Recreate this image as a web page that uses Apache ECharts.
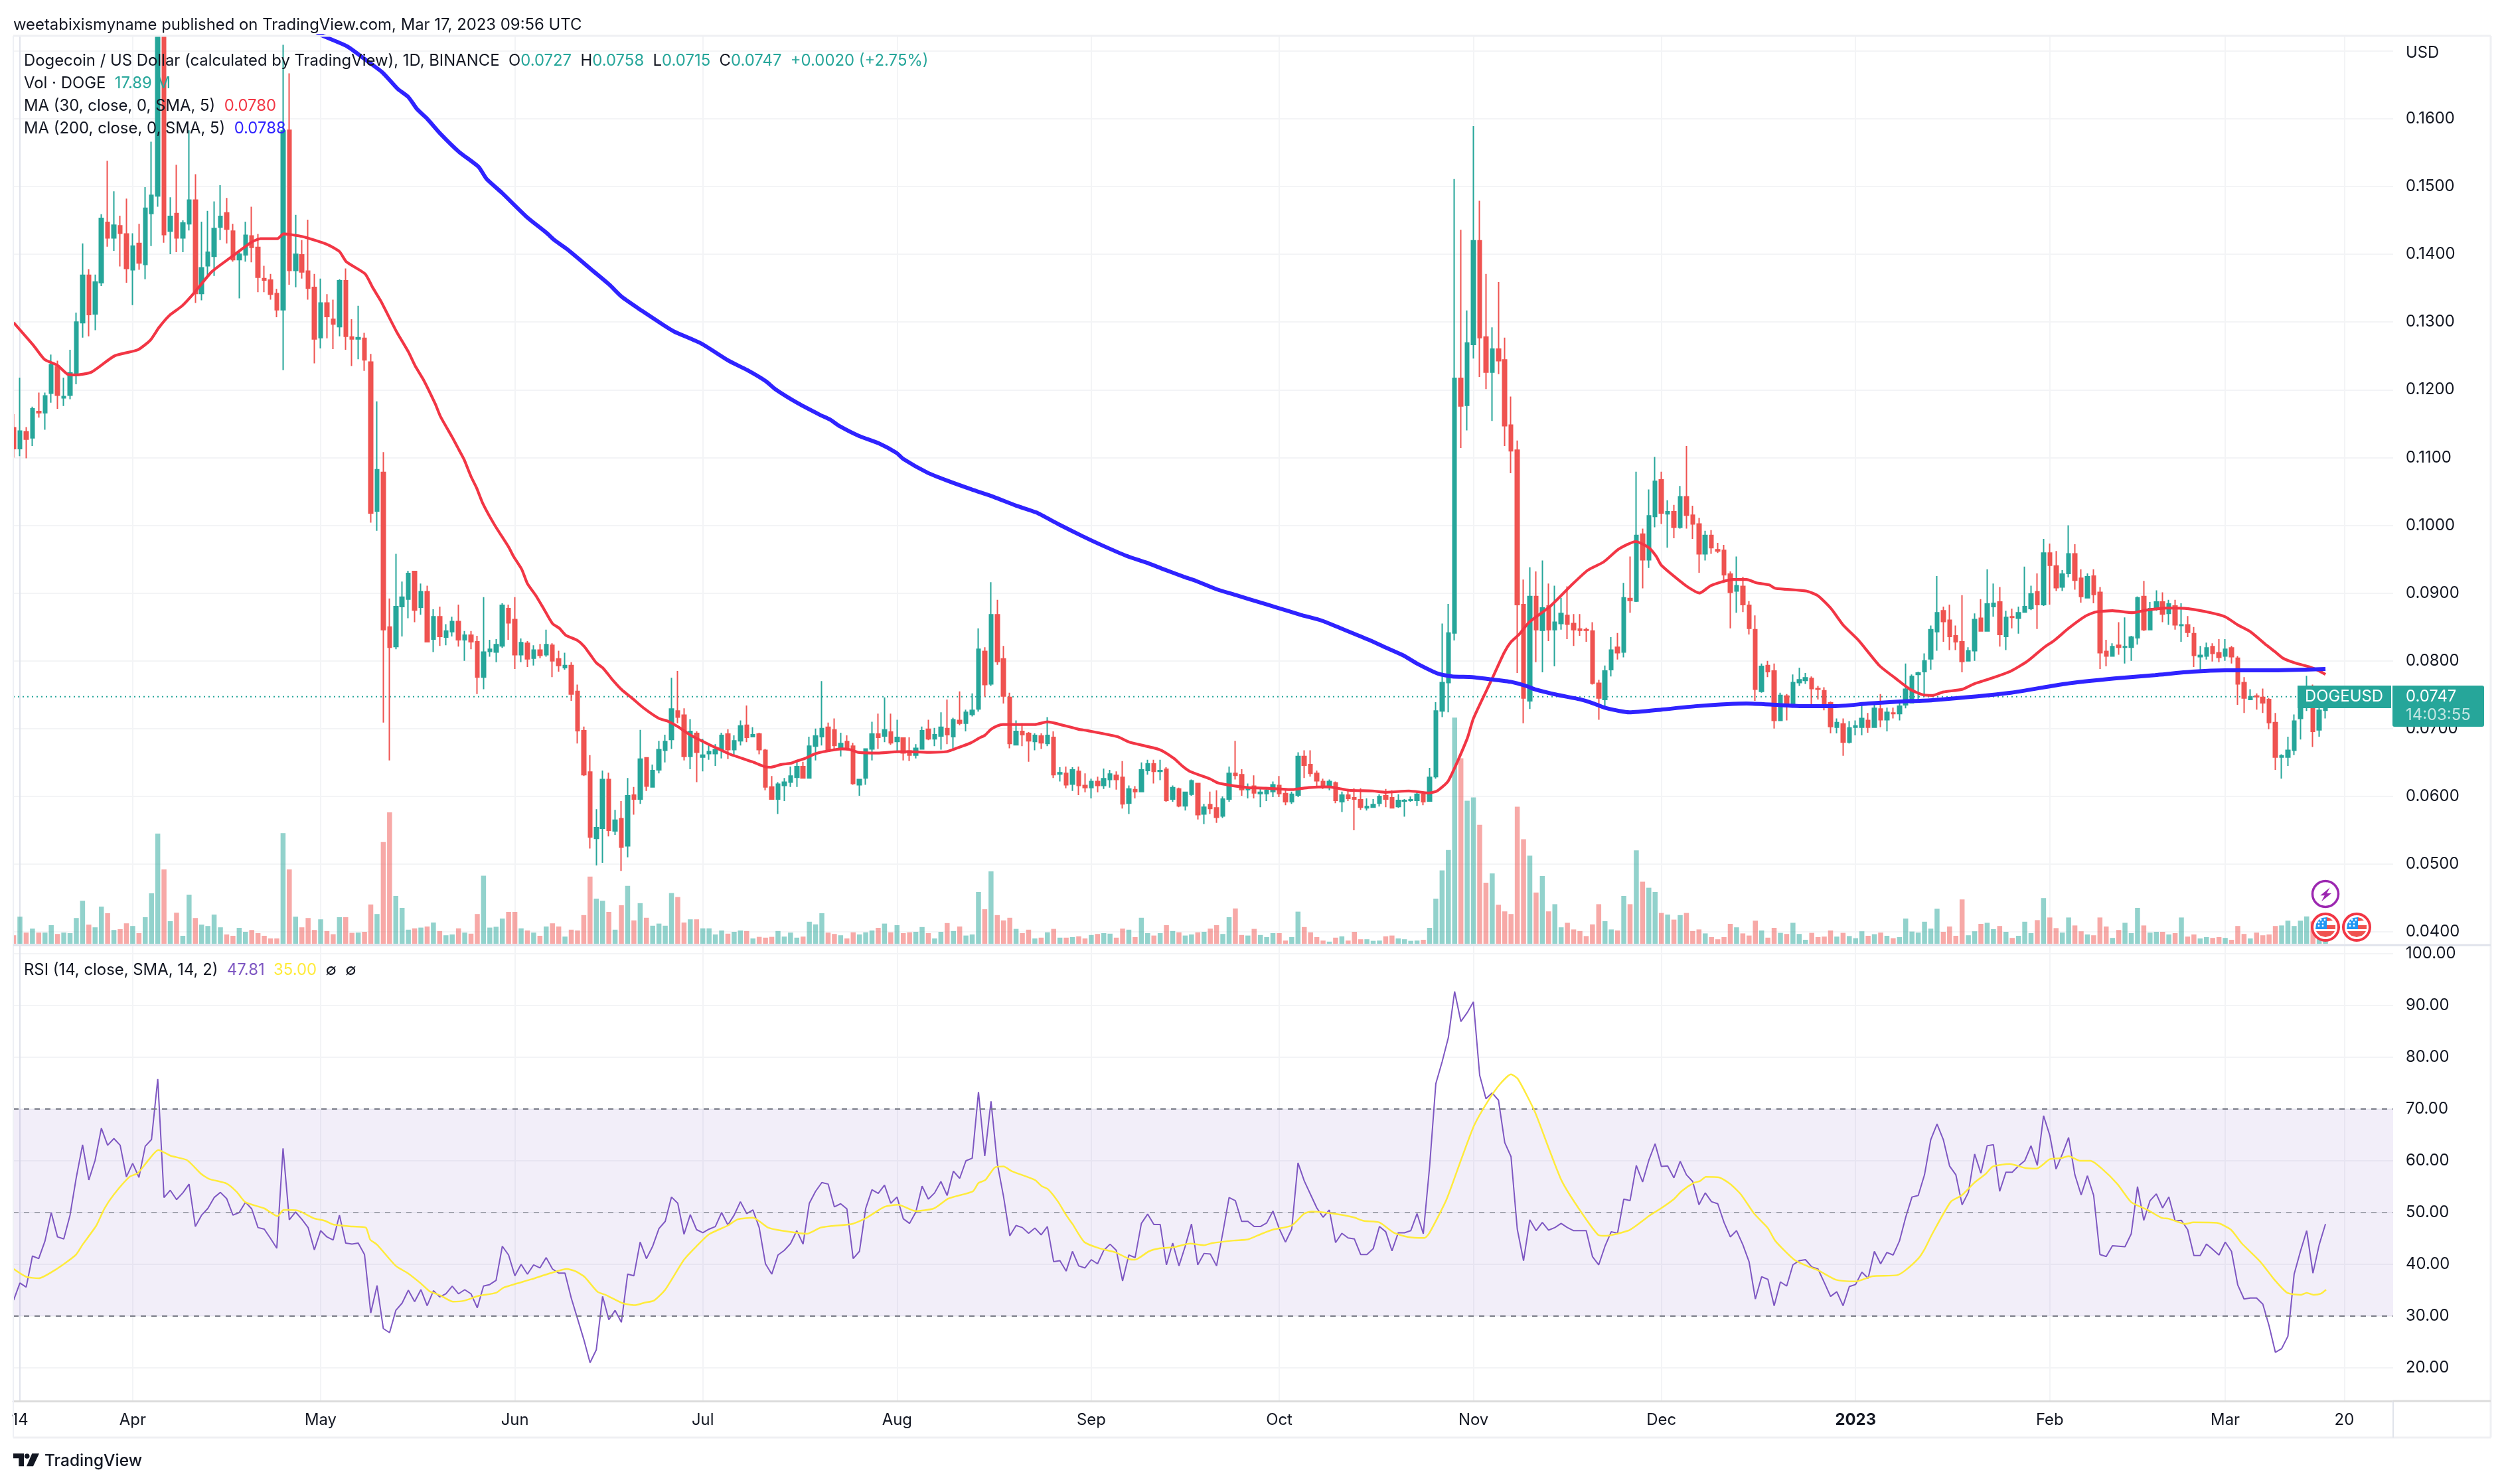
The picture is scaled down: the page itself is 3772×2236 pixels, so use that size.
<!DOCTYPE html>
<html><head><meta charset="utf-8"><style>html,body{margin:0;padding:0;background:#fff}#c{width:3772px;height:2236px}</style>
<script src="https://cdn.jsdelivr.net/npm/echarts@6/dist/echarts.min.js"></script></head><body><div id="c"></div>
<script>
// prices are in units of 0.0001 USD; first entry is day -1 (13 Mar 2022), day 0 is 14 Mar 2022
// the candles of days 22-23 run off the top of the pane: 1722 is the highest value the picture shows
const priceOpen=[1144,1113,1138,1129,1168,1166,1195,1234,1188,1192,
1223,1299,1369,1312,1358,1447,1424,1442,1430,1377,
1416,1385,1460,1486,1722,1434,1460,1424,1445,1480,
1342,1383,1397,1440,1461,1434,1392,1399,1427,1410,
1364,1362,1342,1318,1583,1376,1399,1375,1351,1277,
1328,1304,1293,1361,1278,1275,1276,1241,1021,1078,
850,821,880,891,932,879,902,832,865,835,
843,858,831,838,828,776,814,813,822,877,
861,809,826,804,816,809,823,803,790,793,
755,697,636,538,553,625,549,567,527,602,
596,657,614,639,668,684,726,720,659,693,
658,663,663,669,692,669,682,705,688,692,
668,614,596,616,621,628,644,627,674,688,
702,698,671,681,674,617,627,670,692,689,
695,681,686,667,661,670,699,685,689,700,
688,712,708,721,729,814,766,868,803,746,
676,696,693,681,689,678,687,633,634,618,
637,616,613,622,616,625,631,628,590,610,
607,638,648,637,640,596,611,586,603,619,
574,588,583,571,596,634,632,610,615,604,
604,607,616,604,592,602,659,647,634,622,
613,620,592,602,598,595,583,584,590,601,
598,585,593,594,594,603,593,629,726,768,
841,1217,1177,1267,1420,1278,1226,1260,1244,1148,
1111,883,741,895,845,881,846,855,867,855,
847,846,844,767,743,787,820,813,892,888,
987,949,1013,1067,1017,1020,997,1042,1015,1002,
958,985,964,963,928,903,910,882,846,755,
793,785,712,748,735,768,771,774,759,756,
738,702,707,680,702,702,712,702,729,713,
723,722,735,738,780,784,803,843,874,860,
837,828,800,815,863,844,880,887,836,865,
863,872,877,902,883,959,940,909,929,958,
922,893,925,901,814,807,823,820,820,834,
895,846,877,887,870,881,852,853,840,806,
807,821,812,807,819,804,768,743,748,746,
743,709,658,658,668,715,734,752,698,727];
const priceClose=[1113,1139,1127,1172,1166,1191,1237,1192,1190,1225,
1300,1369,1311,1359,1453,1424,1443,1431,1379,1412,
1387,1468,1487,1722,1429,1456,1424,1446,1480,1342,
1380,1403,1438,1456,1437,1392,1400,1428,1410,1366,
1362,1341,1318,1582,1376,1400,1374,1350,1275,1328,
1308,1297,1361,1279,1275,1277,1244,1018,1082,846,
820,880,894,929,875,902,828,865,836,844,
858,831,838,828,776,813,817,824,882,856,
809,827,803,816,808,824,800,793,793,751,
697,632,540,554,625,550,565,525,601,596,
655,615,638,669,681,729,717,659,696,665,
661,666,669,690,669,682,704,687,691,669,
614,596,618,621,630,644,627,674,689,700,
669,675,678,671,619,625,670,692,687,698,
679,687,664,661,671,697,685,691,702,691,
713,708,724,727,817,765,868,799,748,678,
696,691,682,690,679,690,632,635,617,639,
616,613,622,616,626,633,625,589,611,607,
639,648,637,638,594,613,586,606,623,573,
584,582,569,596,634,631,610,612,605,606,
609,617,604,592,603,659,646,634,623,616,
622,594,602,597,596,584,585,588,600,596,
583,594,594,595,603,592,628,726,768,841,
1217,1176,1269,1420,1277,1226,1260,1243,1147,1110,
883,745,895,846,878,846,857,870,854,846,
845,845,767,745,785,816,812,893,889,985,
949,1014,1065,1018,1020,997,1042,1015,1002,958,
985,967,962,927,901,911,883,848,758,792,
784,712,749,737,768,772,775,759,758,734,
703,709,680,701,704,715,702,730,713,724,
722,733,758,777,782,800,846,871,858,836,
828,799,815,861,844,884,885,839,864,864,
871,880,899,883,959,941,908,928,958,919,
895,924,898,812,807,821,820,821,835,893,
846,877,887,869,884,853,853,842,808,808,
819,811,805,817,806,766,745,747,747,738,
709,658,660,668,711,734,752,696,727,747];
const priceHigh=[1164,1218,1145,1175,1196,1196,1252,1243,1218,1259,
1314,1416,1378,1370,1459,1538,1493,1457,1482,1431,
1445,1499,1566,1722,1722,1484,1532,1450,1583,1518,
1448,1464,1478,1502,1483,1445,1407,1448,1470,1430,
1383,1371,1349,1709,1667,1458,1421,1451,1371,1364,
1341,1333,1363,1379,1304,1324,1284,1253,1183,1108,
892,958,917,933,932,914,911,876,880,854,
865,883,844,844,837,894,831,832,885,883,
894,833,829,823,825,846,826,815,812,798,
765,703,661,581,638,635,580,593,627,614,
698,657,647,682,691,775,785,730,714,696,
685,678,677,694,699,690,712,734,702,694,
670,630,621,627,644,653,651,688,700,770,
709,715,694,690,679,625,671,710,722,746,
722,713,686,687,677,703,713,701,724,743,
716,755,728,752,848,820,916,890,822,753,
712,708,695,693,693,717,696,643,644,643,
644,634,626,629,641,639,637,652,616,615,
650,654,654,654,643,616,613,606,625,620,
589,607,609,600,644,682,640,619,631,612,
613,622,630,609,607,665,668,668,638,626,
625,622,607,611,612,612,597,596,603,611,
609,603,596,600,607,607,642,739,855,884,
1511,1436,1317,1589,1479,1371,1292,1359,1277,1190,
1125,920,938,932,948,914,911,893,910,869,
869,849,857,772,793,835,841,915,954,1079,
995,1053,1101,1079,1037,1030,1058,1117,1029,1011,
992,993,974,971,932,954,924,888,867,796,
800,796,753,751,780,790,782,777,763,761,
740,715,715,711,712,737,723,738,751,731,
731,743,796,780,784,811,852,925,880,883,
852,897,820,870,891,935,914,909,874,877,
880,939,911,929,980,973,962,934,1000,972,
935,929,935,909,831,826,857,864,837,895,
918,887,904,901,890,890,885,866,850,822,
827,826,832,832,822,807,776,758,752,759,
745,723,662,688,721,743,778,765,735,758];
const priceLow=[1100,1102,1099,1117,1159,1141,1181,1172,1176,1186,
1208,1277,1279,1288,1353,1411,1405,1382,1358,1325,
1377,1363,1412,1470,1417,1400,1403,1403,1435,1328,
1332,1369,1368,1421,1416,1389,1335,1389,1388,1344,
1344,1333,1307,1229,1355,1351,1364,1333,1239,1261,
1276,1260,1279,1259,1235,1245,1228,1004,992,709,
653,817,836,863,857,868,828,813,822,823,
836,821,800,817,751,758,806,798,819,831,
788,798,791,793,804,806,776,784,787,741,
678,630,523,498,502,541,543,490,510,573,
589,608,614,634,650,670,708,653,640,621,
637,654,645,656,655,659,675,680,688,662,
609,596,574,593,614,614,627,627,653,675,
669,669,659,668,617,601,617,653,670,680,
676,665,653,652,656,669,683,674,669,677,
667,705,696,718,725,747,763,794,737,671,
675,674,651,668,670,674,627,622,612,608,
602,606,597,606,611,613,610,582,574,597,
607,632,619,624,592,592,584,579,601,566,
559,574,561,568,592,625,601,597,597,584,
593,599,599,587,589,599,627,629,614,611,
609,590,577,593,550,580,579,583,585,584,
582,583,570,592,586,587,592,626,717,724,
830,1114,1140,1246,1219,1201,1154,1223,1117,1077,
782,708,729,798,783,829,792,846,832,822,
837,828,765,713,729,777,802,805,871,887,
907,937,997,1002,967,981,995,995,980,930,
948,958,959,915,848,871,872,839,741,753,
776,700,711,712,731,763,766,731,743,727,
693,693,660,678,690,690,694,701,702,696,
715,712,730,737,741,747,787,815,828,816,
816,783,799,800,844,843,865,821,816,848,
840,872,875,847,881,883,903,903,923,905,
886,892,885,788,792,807,809,796,800,824,
844,845,874,857,853,846,828,835,791,782,
802,799,798,800,796,735,723,742,728,723,
699,639,626,645,661,684,726,673,688,715];
const volumeM=[32,102,42,57,42,42,70,37,42,40,
97,162,72,62,140,115,52,55,77,67,
40,100,190,415,280,85,117,30,185,97,
72,67,110,62,35,30,60,45,52,40,
30,20,20,417,280,102,62,97,52,92,
48,36,100,100,41,42,45,148,112,383,
495,180,135,53,58,61,65,80,48,32,
35,58,42,38,112,256,61,64,95,120,
120,58,50,42,30,65,77,65,27,53,
50,108,253,170,162,120,53,145,218,88,
153,98,68,76,68,191,176,80,92,92,
58,58,35,50,38,45,50,48,20,26,
23,26,48,27,42,23,27,83,73,115,
42,37,32,20,43,35,43,50,60,76,
43,70,40,43,45,63,40,20,45,78,
48,65,31,35,195,130,273,108,88,98,
56,40,53,20,23,43,56,23,23,25,
28,20,33,37,40,38,23,57,53,25,
98,40,31,40,70,48,43,31,35,43,
45,57,70,37,100,133,33,31,56,33,
25,40,40,12,25,121,63,43,25,12,
8,23,28,12,45,17,17,11,12,28,
31,20,17,11,12,15,60,170,276,353,
852,699,539,551,448,230,265,147,122,112,
516,394,332,193,255,122,149,62,79,54,
48,29,73,149,85,54,50,180,149,352,
234,211,195,116,110,91,108,116,48,54,
39,25,17,25,75,62,39,31,87,50,
23,60,41,37,79,37,15,41,25,27,
50,27,41,29,21,47,30,36,42,30,
21,25,95,46,42,83,57,132,45,65,
30,167,32,47,75,79,55,67,45,22,
30,83,40,89,172,99,59,42,99,69,
47,35,32,99,65,22,52,79,40,135,
69,42,45,45,35,40,99,27,35,20,
25,22,25,22,15,67,37,20,42,32,
35,67,69,87,67,87,103,84,50,18];
const rsi=[33.1,36.4,35.6,41.6,41.1,44.5,50,45.3,44.9,49.5,
56.8,63.1,56.3,60.1,66.3,63,64.3,63,56.9,59.5,
56.8,62.8,64.1,75.8,52.9,54.3,52.5,53.8,55.5,47.3,
49.5,50.8,52.9,53.9,52.7,49.5,50,52,50.7,47.1,
46.8,45,43.1,62.4,48.6,50.1,48.7,47.1,42.8,46.5,
45.3,44.7,49.5,44.1,43.9,44.1,41.9,30.6,35.9,27.6,
26.8,31.1,32.5,35,32.8,35.1,32,34.9,33.7,34.3,
35.8,34.3,35.1,34.3,31.6,35.8,36.1,36.9,43.5,41.8,
37.8,40,38.1,39.9,39.3,41.3,39.1,38.3,38.3,33.5,
29.5,25.5,21,23.5,33.8,29.3,31.1,28.8,38.1,37.8,
44.3,41.1,43.5,46.9,48.3,53,51.8,45.8,49.6,46.7,
46.1,46.8,47.3,50,47.6,49.5,52.1,49.8,50.5,47.1,
40.1,38.1,41.8,42.7,44,46.5,43.9,51.8,54.1,55.8,
55.5,51.1,51.7,50.7,41.1,42.5,50.8,54.4,53.7,55.3,
51.8,53,48.8,47.9,50.1,55.1,52.6,53.8,56,53.3,
58,56.6,60,60.5,73.3,60.9,71.5,59.5,53.1,45.5,
47.5,47.1,46,47,45.7,47.3,40.5,40.7,38.7,42.5,
39.7,39.3,40.9,40.1,42.7,43.9,42.7,36.8,41.8,41.3,
47.9,49.7,47.7,47.7,39.9,44.1,39.7,43.5,47.8,39.9,
42.1,42,39.7,46.1,52.9,52.3,48.3,48.3,47.3,47.3,
48,50.3,46.9,44.3,46.8,59.6,56.1,53.5,50.9,49.1,
50.5,44.2,46,45.1,44.9,41.9,41.9,43,47.3,46.3,
42.6,46.1,46.1,46.5,49.8,45.9,58.8,74.9,79.1,83.8,
92.7,86.9,88.6,90.7,76.5,72,73.1,71.7,63.5,60.8,
46.8,40.7,48.6,46.5,48.1,46.6,47.1,47.9,47.1,46.5,
46.5,46.5,41.5,39.9,43.5,46.3,46,52.6,52.3,59.1,
55.9,60.1,63.3,58.9,59,56.7,59.9,57.3,56,51.5,
53.8,52.1,51.7,48.1,45.3,46.5,43.8,40.5,33.3,37.6,
37.1,32,36.6,35.8,39.9,40.7,40.9,39.5,39.1,36.5,
33.8,34.7,32,35.7,36.1,38.5,37.3,42.5,40.1,42.3,
41.8,44.5,49.1,53,53.3,57.3,64.1,67.1,64.1,59,
57.3,51.5,53.9,61.3,57.6,62.9,63.1,54.1,57.8,57.8,
59,60,62.9,59.1,68.7,64.9,58.4,61.3,64.5,57.3,
53.4,57.1,53.3,41.9,41.5,43.6,43.5,43.4,45.9,55,
48.5,52.3,53.6,50.9,53,48.4,48.5,46.7,41.7,41.7,
43.9,42.9,41.8,44.3,42.5,36,33.3,33.5,33.5,32.3,
28.1,23,23.7,26.1,38.1,42.5,46.5,38.3,43.8,47.8];
// [day, value] readings along the smooth curves
const ma30=[[-1,.1299],[2.2,.1265],[3.9,.1245],[6,.1236],[7.6,.1223],[8.9,.1222],[11.4,.1226],[15.1,.125],[18.8,.1259],[20.8,.1273],[22.2,.1292],[23.9,.131],[25.9,.1324],[27.9,.1344],[30.6,.1374],[33.6,.1395],[37,.1418],[38.4,.1423],[41.1,.1423],[42.1,.143],[45.1,.1426],[48.9,.1415],[51,.1404],[52.1,.1389],[55.1,.1371],[56.3,.1351],[57.6,.1331],[60.1,.1286],[62,.1256],[63.1,.1235],[64.4,.1215],[66.3,.1179],[67.1,.1161],[69,.113],[70.1,.1111],[70.9,.1097],[72,.1072],[72.9,.1055],[73.9,.1032],[75.8,.1],[78,.0968],[78.8,.0954],[80.1,.0935],[81,.0914],[82.3,.0897],[83.6,.0877],[85,.0855],[86.1,.0848],[87.1,.0838],[89,.083],[90.1,.0821],[91.2,.0807],[92,.0797],[93.1,.0789],[94.5,.0773],[96.1,.0757],[97.7,.0745],[99.6,.073],[102,.0715],[103.4,.0711],[105,.0703],[107.1,.069],[109.9,.0677],[112,.0668],[113.4,.0662],[116.9,.0651],[118.8,.0644],[119.8,.0643],[121.5,.0647],[123.1,.0649],[124,.0652],[125.3,.0656],[127,.0663],[128.3,.0666],[131.2,.067],[132.5,.0669],[133.8,.0665],[136.9,.0664],[140.2,.0666],[142.1,.0666],[145.3,.0665],[147.9,.0666],[149.2,.067],[151.8,.0679],[153.1,.0686],[154,.069],[155,.0699],[156,.0704],[156.9,.0706],[162,.0706],[164,.071],[165.2,.0708],[169,.0699],[170.4,.0697],[175.2,.0688],[177.1,.068],[181.9,.0669],[184.2,.0656],[185.5,.0645],[186.7,.0637],[189.9,.0626],[191.2,.062],[192.8,.0617],[196,.0613],[198.9,.0612],[203.1,.061],[205.7,.0613],[208.9,.0614],[212.1,.0609],[215.9,.0608],[217.9,.0606],[221.7,.0608],[224.9,.0605],[226.2,.0608],[228,.0623],[231,.0685],[232,.0715],[235,.0774],[236.9,.0812],[238,.0828],[239.3,.0839],[240.9,.0857],[244.2,.088],[247.9,.0914],[250.3,.0934],[252.8,.0946],[255.2,.0965],[257.9,.0976],[260,.0967],[261.2,.0954],[262,.0941],[265.9,.0911],[268.1,.09],[269.9,.0911],[273.4,.092],[275.6,.092],[277.2,.0915],[279.2,.0912],[280.2,.0907],[285.1,.0903],[287,.0896],[289.1,.0877],[291,.0853],[293.5,.083],[296.8,.0793],[299.4,.0774],[301.7,.0758],[303.7,.075],[305.3,.0749],[307,.0754],[310,.0758],[311.9,.0766],[314.9,.0775],[317.8,.0785],[320.5,.08],[323.1,.082],[324.7,.083],[327,.0848],[329.7,.0866],[331.3,.0872],[334,.0874],[337.2,.0871],[339.5,.0875],[342.8,.0878],[346.1,.0877],[349.7,.0871],[352,.0865],[354,.0853],[356,.0843],[358.6,.0823],[360,.0813],[361.2,.0804],[363.1,.0797],[365.5,.0791],[366.8,.0786],[368,.078]];
const ma200=[[47,.173],[48.2,.1723],[52.2,.1707],[55.6,.1684],[57.9,.1668],[60.3,.1644],[62,.1632],[63.4,.1614],[65,.16],[67.1,.1578],[70.1,.1551],[73.2,.1529],[74.5,.1511],[76.9,.1491],[80.9,.1455],[84,.1432],[85.3,.1421],[87.4,.1407],[91.4,.1376],[94.1,.1355],[96.1,.1337],[99.2,.1317],[102.8,.1295],[104.4,.1286],[108.8,.1268],[113.1,.1243],[116.1,.1229],[119,.1213],[120.7,.12],[124.2,.118],[127.7,.1163],[129.3,.1156],[130.9,.1146],[133.9,.1132],[137.1,.1121],[139.9,.1107],[141,.1098],[144.8,.1078],[148,.1066],[151.9,.1053],[155.4,.1042],[159,.1029],[162.2,.1019],[165.7,.1002],[169.6,.0984],[172.6,.0971],[176.6,.0955],[179.8,.0945],[182.6,.0935],[185.8,.0924],[187.7,.0918],[190.9,.0906],[194.1,.0897],[198,.0886],[200.5,.0879],[204.4,.0868],[207.9,.0859],[211.1,.0847],[215.3,.0831],[217.9,.082],[220.8,.0808],[223,.0796],[226.4,.0781],[228.6,.0777],[231.8,.0776],[234.5,.0773],[238,.0769],[240.4,.0763],[241.8,.0758],[245.3,.075],[249.1,.0743],[251.2,.0737],[252.9,.0731],[255.3,.0726],[256.9,.0724],[262,.0728],[267.4,.0733],[275.6,.0737],[280.4,.0735],[284.8,.0733],[289.6,.0733],[295,.0737],[300.1,.074],[305.3,.0742],[317.8,.0753],[326.4,.0766],[334.3,.0774],[340.8,.0779],[346.7,.0784],[352,.0786],[359.2,.0786],[368,.0788]];
const rsiMa=[[-1,39.1],[1,37.6],[3,37.3],[5.6,38.9],[8.9,41.8],[10,43.8],[12.2,47.5],[13.5,50.8],[15,53.5],[17.5,56.9],[18.8,57.6],[20.1,59.5],[22.1,62.1],[24,61],[26.7,60.1],[28.9,57.5],[30.2,56.5],[33,55.6],[34.6,54],[36,52],[39,50.8],[41.1,49.3],[42.1,50.5],[44.3,50.4],[46.9,48.9],[48.7,48.4],[50,47.7],[53.1,47.3],[55.2,47.1],[55.9,44.8],[57,43.8],[60,39.7],[61.9,38.3],[64,36.3],[65.4,34.8],[67.1,34],[69.1,32.8],[71,33],[73.2,33.9],[76,34.5],[77.2,35.5],[81.6,37.1],[84.7,38.3],[87.3,39.1],[88.6,38.7],[90.1,37.6],[92.2,34.7],[93.5,34.1],[96.2,32.5],[98.1,32.1],[99.7,32.6],[101.2,33],[103,35.1],[106,40.9],[108,43.5],[110,45.8],[113,47.5],[114.6,48.7],[117,49],[119.4,47.1],[121.6,46.5],[125.6,45.9],[127.8,47.1],[129.5,47.4],[132.8,47.8],[135,48.9],[138,51.1],[140.2,51.5],[142.9,50.3],[145.9,50.8],[148.2,52.7],[152.1,54.1],[153,55.7],[154.1,56.3],[155.6,58.7],[157,58.9],[158.3,58],[162,56.3],[163.1,55.1],[164.1,54.5],[165.7,52.1],[167,49.5],[168,47.8],[169.9,44.3],[172.3,43.1],[174.9,42.3],[177.1,41],[178,40.9],[180.2,42.5],[182,43.1],[184.2,43.3],[186.8,44],[189,43.7],[190.3,44.1],[193.8,44.6],[196,44.8],[198.2,45.9],[200,46.7],[203,47.5],[205,49.8],[206.2,50.2],[209.6,49.8],[212.8,49.1],[214.5,48.4],[217,48.1],[219.3,46.1],[221.5,45.3],[224.2,45.1],[225,46.1],[227.7,52.5],[230,60.1],[232.1,66.8],[234.3,71.5],[236.3,74.9],[238,76.7],[239.1,75.8],[241.8,69.5],[244,62.5],[246.1,56.1],[248.8,50.8],[251.9,45.7],[253.2,45.5],[256.7,46.5],[258,47.5],[260.2,49.5],[261.8,50.7],[264,52.6],[265.2,54.1],[267.1,55.7],[268.2,56.1],[269.1,56.9],[271.2,56.8],[273,55.5],[274.7,53.5],[276.8,49.8],[279,47],[280.2,44.5],[283.2,40.9],[285.4,39.6],[287.1,38.8],[289.9,37],[293.1,36.7],[295.7,37.7],[299.6,37.9],[300.9,38.8],[303,41.1],[304,42.9],[305.2,45.8],[308.2,52.1],[309.9,53.3],[312,55.8],[313.8,57.5],[314.9,58.9],[317.6,59.4],[320.1,58.6],[321.9,58.5],[324,60.3],[325.8,60.5],[327,60.9],[328.8,60],[330.5,60],[332.2,58.6],[334.8,55.5],[337,52],[339.6,50.5],[341.8,49],[343,48.8],[345.6,47.8],[346.9,48.1],[350.7,48],[352.9,46.7],[354.6,44.1],[357.6,40.5],[359.8,37.1],[361.9,34.5],[364.1,34.1],[365,34.5],[366.1,34.1],[367.2,34.3],[368.1,35.1]];
const priceTicks=[.04,.05,.06,.07,.08,.09,.1,.11,.12,.13,.14,.15,.16];
const priceGridTicks=priceTicks.concat([.17]);
const rsiTicks=[20,30,40,50,60,70,80,90,100];
const dayTicks=[0,18,48,79,109,140,171,201,232,262,293,324,352,371];
const dayLabels=['14','Apr','May','Jun','Jul','Aug','Sep','Oct','Nov','Dec','2023','Feb','Mar','20'];
const lastPrice=.0747;

[priceOpen,priceClose,priceHigh,priceLow,volumeM,rsi].forEach((a,i)=>{if(a.length!==370)throw new Error('len '+i+' '+a.length)});

const F='Inter, "Liberation Sans", sans-serif',G='#26a69a',R='#ef5350',TXT='#131722',GRID='#f3f4f6',FS=23.88;
const day=i=>i-1;
const X0=-1.06,X1=378.8;
const chart=echarts.init(document.getElementById('c'),null,{width:3772,height:2236,renderer:'canvas'});
const xBase={type:'value',min:X0,max:X1,axisTick:{show:false,customValues:dayTicks},splitLine:{show:true,lineStyle:{color:GRID,width:2}}};
const txt=(x,y,text,rich,extra)=>({type:'text',z:100,zlevel:1,silent:true,style:Object.assign({x,y:y+2,text,rich,font:FS+'px '+F,fill:TXT,verticalAlign:'middle'},extra||{})});
const S=(c,w)=>({fill:c,fontSize:FS,fontFamily:F,fontWeight:w||400});
const line=(x1,y1,x2,y2,c,w)=>({type:'line',z:60,silent:true,shape:{x1,y1,x2,y2},style:{stroke:c,lineWidth:w}});
const stars=(cx,cy)=>[[-10,-7],[-4,-7],[-10,-2],[-4,-2],[-7,-11],[-1,-11]].map(p=>({type:'circle',z:101,silent:true,shape:{cx:cx+p[0],cy:cy+p[1],r:1.4},style:{fill:'#fff'}}));
const poly=(cx,cy,pts,c)=>({type:'polygon',z:101,silent:true,shape:{points:pts.map(p=>[cx+p[0],cy+p[1]])},style:{fill:c}});
const flag=(cx,cy)=>[{type:'circle',z:100,silent:true,shape:{cx,cy,r:20},style:{fill:'#fff',stroke:'#f23645',lineWidth:4}},
 poly(cx,cy,[[2,-15],[7,-13.5],[11,-10],[2,-9]],R),
 poly(cx,cy,[[2,-3],[15,-3],[15,3],[2,3]],R),
 poly(cx,cy,[[-14,6],[14,6],[12,9],[8,12.7],[0,15],[-8,12.7],[-12,9]],R),
 poly(cx,cy,[[-15,3],[-14,-5],[-10,-11],[-5,-14],[2,-15],[2,3]],'#2196f3')].concat(stars(cx,cy));

chart.setOption({
 animation:false,backgroundColor:'#fff',
 grid:[{left:20,top:54,width:3585,height:1368},{left:20,top:1425,width:3585,height:686}],
 xAxis:[Object.assign({},xBase,{gridIndex:0,axisLine:{show:false},axisLabel:{show:false}}),
  Object.assign({},xBase,{gridIndex:1,axisLine:{show:true,onZero:false,lineStyle:{color:'#dcdcdc',width:3}},
   axisLabel:{show:true,customValues:dayTicks,margin:17,fontFamily:F,fontSize:FS,color:TXT,
    formatter:v=>{const s=dayLabels[dayTicks.indexOf(v)];return s==='2023'?'{b|2023}':s;},rich:{b:{fontWeight:700,fontFamily:F,fontSize:FS,color:TXT}}}})],
 yAxis:[{type:'value',gridIndex:0,position:'right',min:.03825,max:.17223,scale:true,
   axisLine:{show:true,lineStyle:{color:'#e0e3eb',width:2}},axisTick:{show:false,customValues:priceGridTicks},
   splitLine:{show:true,lineStyle:{color:GRID,width:2}},
   axisLabel:{customValues:priceTicks,margin:19,padding:[4,0,0,0],fontFamily:F,fontSize:FS,color:TXT,formatter:v=>v.toFixed(4)}},
  {type:'value',gridIndex:0,show:false,min:0,max:3420,splitLine:{show:false}},
  {type:'value',gridIndex:1,position:'right',min:13.59,max:101.54,
   axisLine:{show:true,lineStyle:{color:'#e0e3eb',width:2}},axisTick:{show:false,customValues:rsiTicks},
   splitLine:{show:true,lineStyle:{color:GRID,width:2}},
   axisLabel:{customValues:rsiTicks,margin:19,padding:[4,0,0,0],fontFamily:F,fontSize:FS,color:TXT,formatter:v=>v.toFixed(2)}}],
 series:[
  {name:'Vol',type:'bar',xAxisIndex:0,yAxisIndex:1,z:2,barWidth:7.5,data:volumeM.map((v,i)=>[day(i),v]),
   itemStyle:{color:p=>priceClose[p.dataIndex]>=priceOpen[p.dataIndex]?'rgba(38,166,154,.5)':'rgba(239,83,80,.5)'}},
  {name:'DOGEUSD',type:'candlestick',xAxisIndex:0,yAxisIndex:0,z:3,barWidth:6,
   encode:{x:0,y:[1,2,3,4]},
   data:priceOpen.map((o,i)=>[day(i),o/1e4,priceClose[i]/1e4,priceLow[i]/1e4,priceHigh[i]/1e4]),
   itemStyle:{color:G,color0:R,borderColor:G,borderColor0:R,borderWidth:2}},
  {name:'Last price',type:'line',xAxisIndex:0,yAxisIndex:0,z:3,showSymbol:false,silent:true,data:[[X0,lastPrice],[X1,lastPrice]],lineStyle:{color:G,type:[2,5],width:2}},
  {name:'MA30',type:'line',xAxisIndex:0,yAxisIndex:0,z:4,showSymbol:false,smooth:.2,data:ma30,lineStyle:{color:'#f23645',width:4.2}},
  {name:'MA200',type:'line',xAxisIndex:0,yAxisIndex:0,z:5,showSymbol:false,smooth:.2,data:ma200,lineStyle:{color:'#2f23ff',width:6}},
  {name:'RSI',type:'line',xAxisIndex:1,yAxisIndex:2,z:4,showSymbol:false,data:rsi.map((v,i)=>[day(i),v]),lineStyle:{color:'#7e57c2',width:2},
   markArea:{silent:true,z:1,itemStyle:{color:'rgba(126,87,194,.1)'},data:[[{yAxis:30},{yAxis:70}]]},
   markLine:{silent:true,symbol:'none',label:{show:false},data:[
    {yAxis:70,lineStyle:{color:'#787b86',type:[8,8],width:2}},
    {yAxis:50,lineStyle:{color:'rgba(120,123,134,.6)',type:[8,8],width:2}},
    {yAxis:30,lineStyle:{color:'#787b86',type:[8,8],width:2}}]}},
  {name:'RSI MA',type:'line',xAxisIndex:1,yAxisIndex:2,z:5,showSymbol:false,smooth:.2,data:rsiMa,lineStyle:{color:'#ffeb3b',width:2.5}}
 ],
 graphic:[
  {type:'rect',z:55,silent:true,shape:{x:0,y:54,width:19,height:1370},style:{fill:'#fff'}},
  line(20,54,3752,54,'#eff0f3',3),line(20,54,20,2166,'#eef0f5',2),line(20,2166,3752,2166,'#eff0f3',3),line(3752,54,3752,2166,'#eff0f3',3),
  line(20,1424,3752,1424,'#e0e3eb',3),line(3605,2111,3605,2166,'#e0e3eb',2),line(3605,2111,3752,2111,'#dcdcdc',3),
  txt(20,36,'weetabixismyname published on TradingView.com, Mar 17, 2023 09:56 UTC'),
  txt(36,89.5,'{t|Dogecoin / US Dollar (calculated by TradingView), 1D, BINANCE  O}{g|0.0727}{t|  H}{g|0.0758}{t|  L}{g|0.0715}{t|  C}{g|0.0747}{g|  +0.0020 (+2.75%)}',{t:S(TXT),g:S(G)}),
  txt(36,124,'{t|Vol · DOGE}{g|  17.89 M}',{t:S(TXT),g:S(G)}),
  txt(36,157.5,'{t|MA (30, close, 0, SMA, 5)}{g|  0.0780}',{t:S(TXT),g:S('#f23645')}),
  txt(36,192,'{t|MA (200, close, 0, SMA, 5)}{g|  0.0788}',{t:S(TXT),g:S('#2f23ff')}),
  txt(36,1460,'{t|RSI (14, close, SMA, 14, 2)}{p|  47.81}{y|  35.00}{t|  ∅  ∅}',{t:S(TXT),p:S('#7e57c2'),y:S('#ffeb3b')}),
  txt(3624,78,'USD'),
  txt(67,2200,'TradingView',null,{font:'500 24.5px '+F}),
  poly(0,0,[[20,2190],[36,2190],[36,2209.3],[28.3,2209.3],[28.3,2197.3],[20,2197.3]],TXT),
  {type:'circle',z:101,silent:true,shape:{cx:40.7,cy:2194,r:3.8},style:{fill:TXT}},
  poly(0,0,[[48.3,2190],[59,2190],[50,2209.3],[40,2209.3]],TXT),
  {type:'rect',z:90,silent:true,shape:{x:3461,y:1033,width:141,height:34},style:{fill:G}},
  {type:'rect',z:90,silent:true,shape:{x:3604,y:1033,width:138,height:62,r:[0,3,3,3]},style:{fill:G}},
  txt(3472,1048,'DOGEUSD',null,{fill:'#fff'}),
  txt(3624,1048,'0.0747',null,{fill:'#fff'}),
  txt(3624,1076,'14:03:55',null,{fill:'rgba(255,255,255,.72)'}),
  {type:'circle',z:100,silent:true,shape:{cx:3503,cy:1347,r:19.5},style:{fill:'#fff',stroke:'#9c27b0',lineWidth:3.5}},
  poly(3503,1347,[[6.7,-9.7],[-7.7,2.3],[-1.3,2.3],[-6,11.3],[9,-1],[2,-1]],'#9c27b0')
 ].concat(flag(3503,1397),flag(3550,1397))
});
</script></body></html>
